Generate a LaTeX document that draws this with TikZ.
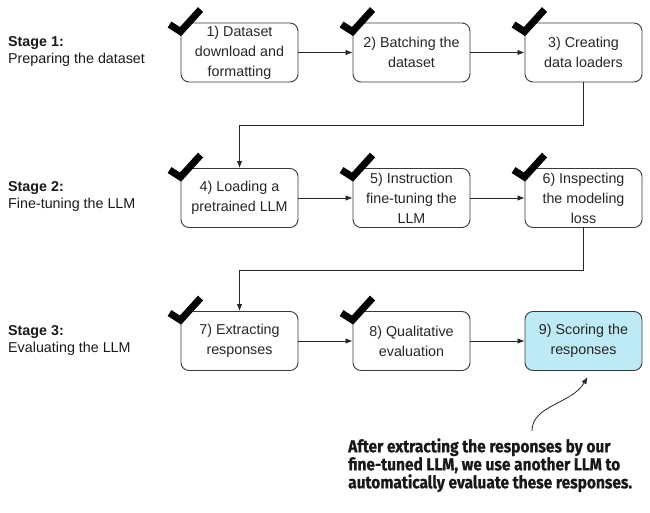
\documentclass[tikz,border=0pt]{standalone}
\usepackage{fontspec}
\setmainfont{Liberation Sans}
\newfontfamily\annotfont[FakeStretch=0.89,BoldFeatures={FakeBold=0.6}]{Fira Sans}
\usetikzlibrary{arrows.meta}
\definecolor{boxline}{HTML}{3A3A3A}
\definecolor{hilite}{HTML}{BEEAF5}
\begin{document}
\begin{tikzpicture}[x=1pt,y=-1pt,
  stepbox/.style={draw=boxline,line width=0.9pt,rounded corners=8pt,minimum width=117pt,
    minimum height=59pt,align=center,inner sep=2pt,text=black!85,
    font=\fontsize{14.3}{20}\selectfont},
  conn/.style={draw=black!85,line width=0.8pt,-{Latex[length=7pt,width=5.5pt]}},
  chk/.style={line width=7pt,black,line join=miter,line cap=butt},
  stagelbl/.style={anchor=north west,align=left,inner sep=0pt,text=black!90,
    font=\fontsize{14.3}{17}\selectfont},
  annot/.style={anchor=north west,align=left,inner sep=0pt,text=black!90,
    font=\annotfont\bfseries\fontsize{17.4}{18}\selectfont}
]
\useasboundingbox (0,0) rectangle (650,513);
\newcommand\checkon[1]{\draw[chk] ([shift={(-11,2)}]#1.north west) -- ([shift={(0,9)}]#1.north west) -- ([shift={(20,-13)}]#1.north west);}

\node[stepbox] (b1) at (239.5,52.5) {1) Dataset\\download and\\formatting};
\node[stepbox] (b2) at (411.5,52.5) {2) Batching the\\dataset};
\node[stepbox] (b3) at (583.5,52.5) {3) Creating\\data loaders};
\node[stepbox] (b4) at (239.5,198) {4) Loading a\\pretrained LLM};
\node[stepbox] (b5) at (411.5,198) {5) Instruction\\fine-tuning the\\LLM};
\node[stepbox] (b6) at (583.5,198) {6) Inspecting\\the modeling\\loss};
\node[stepbox] (b7) at (239.5,341) {7) Extracting\\responses};
\node[stepbox] (b8) at (411.5,341) {8) Qualitative\\evaluation};
\node[stepbox,fill=hilite] (b9) at (583.5,341) {9) Scoring the\\responses};

\foreach \b in {b1,b2,b3,b4,b5,b6,b7,b8}{\checkon{\b}}

\draw[conn] (b1.east) -- (b2.west);
\draw[conn] (b2.east) -- (b3.west);
\draw[conn] (b4.east) -- (b5.west);
\draw[conn] (b5.east) -- (b6.west);
\draw[conn] (b7.east) -- (b8.west);
\draw[conn] (b8.east) -- (b9.west);
\draw[conn] (b3.south) -- ++(0,43) -| (b4.north);
\draw[conn] (b6.south) -- ++(0,42) -| (b7.north);

\node[stagelbl] (s1) at (8,36) {\textbf{Stage 1:}\\Preparing the dataset};
\node[stagelbl] (s2) at (8,181) {\textbf{Stage 2:}\\Fine-tuning the LLM};
\node[stagelbl] (s3) at (8,325) {\textbf{Stage 3:}\\Evaluating the LLM};

\node[annot] (note) at (348,438) {After extracting the responses by our\\fine-tuned LLM, we use another LLM to\\automatically evaluate these responses.};
\coordinate (tail) at (532,431);
\draw[line width=0.8pt,black!85,-{Latex[length=7pt,width=5.5pt]}] (tail) .. controls (532,405) and (572,404) .. ([shift={(4,6)}]b9.south);
\end{tikzpicture}
\end{document}
